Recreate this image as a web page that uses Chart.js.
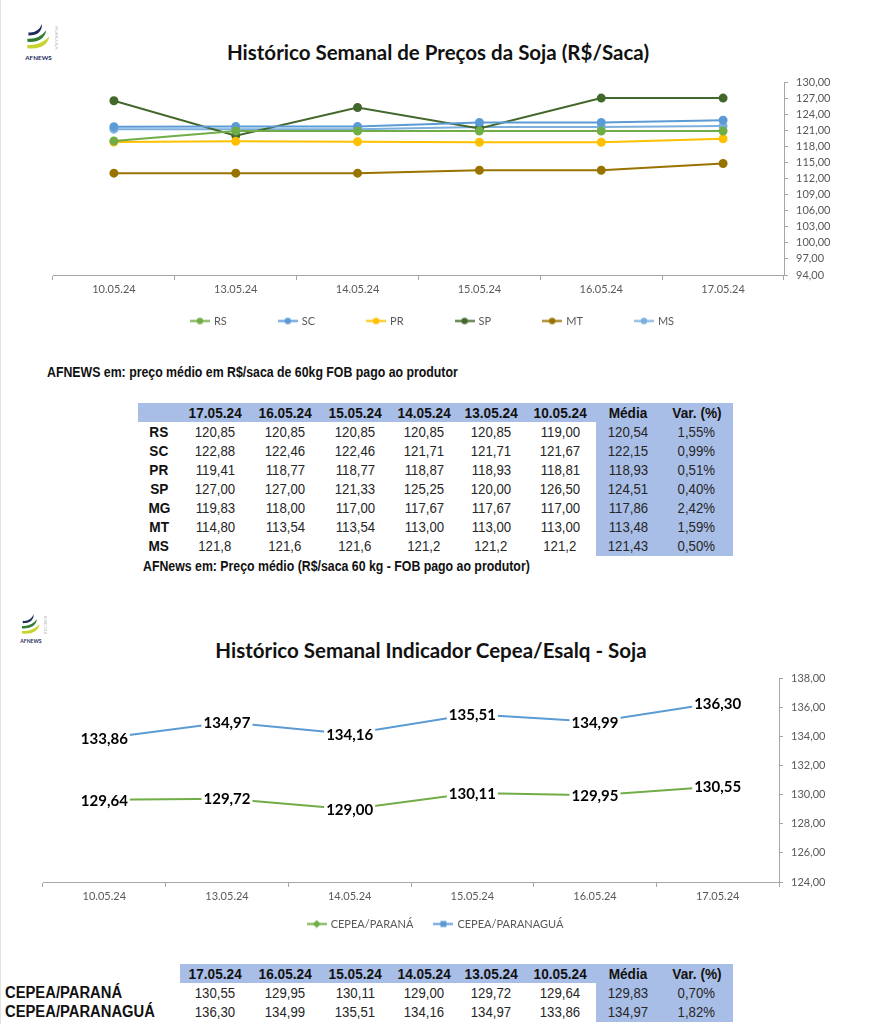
<!DOCTYPE html>
<html>
<head>
<meta charset="utf-8">
<script src="https://cdn.jsdelivr.net/npm/chart.js@4.4.1/dist/chart.umd.min.js"></script>
<style>
  html, body { margin: 0; padding: 0; background: #fff; }
  body { width: 872px; height: 1024px; position: relative; overflow: hidden; font-family: Lato, sans-serif; }
  .abs { position: absolute; }
  .edge { left: 0; top: 0; width: 1px; height: 1024px; background: #e2e2e2; }
  .title { font-weight: bold; font-size: 20.5px; color: #111; white-space: nowrap; transform: translateX(-50%); }
  .narrow { font-family: "Liberation Sans", Arial, sans-serif; white-space: nowrap; }
  .sq { display: inline-block; transform: scaleX(0.88); }
  .note { transform: scaleX(0.88); transform-origin: left center; }
  .cell { position: absolute; text-align: center; color: #262626; font-size: 15px; }
  .shade { position: absolute; background: #a9bee6; }
</style>
</head>
<body>
<div class="abs edge"></div>

<!-- logos -->
<svg class="abs" style="left:24px;top:24px" width="34" height="42" viewBox="0 0 32 40">
  <path d="M4 8 Q13 9 17 0 Q17 11 4 11Z" fill="#1d2b5c"/>
  <path d="M3 14 Q14 15 21 6 Q19 18 3 17Z" fill="#2e7d32"/>
  <path d="M3 20 Q15 21 24 12 Q21 25 3 23Z" fill="#c6d42c"/>
  <text x="1" y="34" font-family="Lato" font-weight="bold" font-size="6" fill="#1d2b5c">AFNEWS</text>
  <text x="29" y="2" font-family="Lato" font-size="4.5" fill="#bbb" transform="rotate(90 29 2)">AGRÍCOLA</text>
</svg>
<svg class="abs" style="left:19px;top:614px" width="28" height="34" viewBox="0 0 32 40">
  <path d="M4 8 Q13 9 17 0 Q17 11 4 11Z" fill="#1d2b5c"/>
  <path d="M3 14 Q14 15 21 6 Q19 18 3 17Z" fill="#2e7d32"/>
  <path d="M3 20 Q15 21 24 12 Q21 25 3 23Z" fill="#c6d42c"/>
  <text x="1" y="34" font-family="Lato" font-weight="bold" font-size="6" fill="#1d2b5c">AFNEWS</text>
  <text x="29" y="2" font-family="Lato" font-size="4.5" fill="#bbb" transform="rotate(90 29 2)">AGRÍCOLA</text>
</svg>

<div class="abs title" style="left:438px;top:40px">Histórico Semanal de Preços da Soja (R$/Saca)</div>
<canvas id="c1" class="abs" style="left:0;top:60px" width="872" height="280"></canvas>

<div class="abs narrow note" style="left:47px;top:364px;font-size:14px;font-weight:bold;color:#111">AFNEWS em: preço médio em R$/saca de 60kg FOB pago ao produtor</div>
<div id="t1"></div>
<div class="abs narrow note" style="left:143px;top:558px;font-size:14px;font-weight:bold;color:#111">AFNews em: Preço médio (R$/saca 60 kg - FOB pago ao produtor)</div>

<div class="abs title" style="left:431px;top:638px">Histórico Semanal Indicador Cepea/Esalq - Soja</div>
<canvas id="c2" class="abs" style="left:0;top:660px" width="872" height="284"></canvas>
<div id="t2"></div>

<script>
// dates, oldest first (chart order); the tables show them newest first
const dates = ["10.05.24", "13.05.24", "14.05.24", "15.05.24", "16.05.24", "17.05.24"];

// soja, R$/saca
const rs = [119.00, 120.85, 120.85, 120.85, 120.85, 120.85];
const sc = [121.67, 121.71, 121.71, 122.46, 122.46, 122.88];
const pr = [118.81, 118.93, 118.87, 118.77, 118.77, 119.41];
const sp = [126.50, 120.00, 125.25, 121.33, 127.00, 127.00];
const mg = [117.00, 117.67, 117.67, 117.00, 118.00, 119.83];
const mt = [113.00, 113.00, 113.00, 113.54, 113.54, 114.80];
const ms = [121.2, 121.2, 121.2, 121.6, 121.6, 121.8];

const mediaSoja = [120.54, 122.15, 118.93, 124.51, 117.86, 113.48, 121.43];
const varSoja = [1.55, 0.99, 0.51, 0.40, 2.42, 1.59, 0.50];

// axis ticks chart 1
const yMin1 = 94, yMax1 = 130, yStep1 = 3;

// cepea/esalq
const cepeaParana = [129.64, 129.72, 129.00, 130.11, 129.95, 130.55];
const cepeaParanagua = [133.86, 134.97, 134.16, 135.51, 134.99, 136.30];
const mediaCepea = [129.83, 134.97];
const varCepea = [0.70, 1.82];

const yMin2 = 124, yMax2 = 138, yStep2 = 2;

const br = (v, d = 2) => v.toFixed(d).replace(".", ",");

const AXIS = "#a6a6a6";
const TICK = "#595959";
const tickFont = { family: "Lato", size: 11 };

// little line+marker images for the legends
function marker(color, shape) {
  const c = document.createElement("canvas");
  c.width = 20; c.height = 9;
  const x = c.getContext("2d");
  x.strokeStyle = color; x.fillStyle = color; x.lineWidth = 2;
  x.beginPath(); x.moveTo(0, 4.5); x.lineTo(20, 4.5); x.stroke();
  x.beginPath();
  if (shape === "square") x.rect(7, 1.5, 6, 6);
  else if (shape === "diamond") { x.moveTo(10, 0.5); x.lineTo(14, 4.5); x.lineTo(10, 8.5); x.lineTo(6, 4.5); x.closePath(); }
  else x.arc(10, 4.5, 3.2, 0, Math.PI * 2);
  x.fill();
  return c;
}

// legend drawn under the x axis, centred on cx, with a fixed gap between items
function bottomLegend(shapes, offsetY, gap, cx) {
  return {
    id: "bottomLegend",
    afterDraw(chart) {
      const ctx = chart.ctx;
      ctx.save();
      ctx.font = "11px Lato";
      ctx.textBaseline = "middle";
      const items = chart.data.datasets.map((ds, i) => ({
        ds, img: marker(ds.borderColor, shapes[i]), w: 24 + ctx.measureText(ds.label).width
      }));
      const total = items.reduce((a, it) => a + it.w, 0) + gap * (items.length - 1);
      let x = cx - total / 2;
      const y = chart.chartArea.bottom + offsetY;
      items.forEach((it) => {
        ctx.drawImage(it.img, x, y - 4.5);
        ctx.fillStyle = TICK;
        ctx.fillText(it.ds.label, x + 24, y + 0.5);
        x += it.w + gap;
      });
      ctx.restore();
    }
  };
}

function scalesFor(min, max, step, leftW, rightW, xH) {
  return {
    x: {
      offset: true,
      grid: { offset: true, drawOnChartArea: false, tickLength: 5, color: AXIS },
      border: { color: AXIS },
      ticks: { color: TICK, font: tickFont, padding: 3, maxRotation: 0 },
      afterFit: (s) => { s.height = xH; }
    },
    y: {
      position: "right",
      min: min, max: max,
      grid: { drawOnChartArea: false, tickLength: 4, color: AXIS },
      border: { color: AXIS },
      ticks: { stepSize: step, autoSkip: false, color: TICK, font: tickFont, padding: 8, callback: (v) => br(v) },
      afterFit: (s) => { s.width = rightW; }
    },
    yl: {
      position: "left",
      grid: { display: false },
      border: { display: false },
      ticks: { display: false },
      afterFit: (s) => { s.width = leftW; }
    }
  };
}

// chart 1
const series1 = [
  { name: "RS", data: rs, color: "#70ad47" },
  { name: "SC", data: sc, color: "#5b9bd5" },
  { name: "PR", data: pr, color: "#ffc000" },
  { name: "SP", data: sp, color: "#43682b" },
  { name: "MT", data: mt, color: "#997300" },
  { name: "MS", data: ms, color: "#7cafdd" }
];

new Chart(document.getElementById("c1"), {
  type: "line",
  data: {
    labels: dates,
    datasets: series1.map((s) => ({
      label: s.name,
      data: s.data,
      borderColor: s.color,
      backgroundColor: s.color,
      borderWidth: 2,
      pointRadius: 3.5,
      pointHoverRadius: 3.5,
      tension: 0
    }))
  },
  options: {
    responsive: false,
    animation: false,
    layout: { padding: { top: 22, bottom: 35, left: 0, right: 0 } },
    plugins: { tooltip: { enabled: false }, legend: { display: false } },
    scales: scalesFor(yMin1, yMax1, yStep1, 53, 88, 30)
  },
  plugins: [bottomLegend(["circle", "circle", "circle", "circle", "circle", "circle"], 46, 51, 432)]
});

// chart 2 with value labels on white boxes
const valueLabels = {
  id: "valueLabels",
  afterDatasetsDraw(chart) {
    const ctx = chart.ctx;
    ctx.save();
    ctx.font = "bold 15px Lato";
    ctx.textAlign = "center";
    ctx.textBaseline = "middle";
    chart.data.datasets.forEach((ds, i) => {
      chart.getDatasetMeta(i).data.forEach((pt, j) => {
        const t = br(ds.data[j]);
        const w = ctx.measureText(t).width + 4;
        ctx.fillStyle = "#fff";
        ctx.fillRect(pt.x - w / 2, pt.y - 10, w, 20);
        ctx.fillStyle = "#000";
        ctx.fillText(t, pt.x, pt.y + 1);
      });
    });
    ctx.restore();
  }
};

new Chart(document.getElementById("c2"), {
  type: "line",
  data: {
    labels: dates,
    datasets: [
      { label: "CEPEA/PARANÁ", data: cepeaParana, borderColor: "#70ad47", backgroundColor: "#70ad47", borderWidth: 2, pointRadius: 0, tension: 0 },
      { label: "CEPEA/PARANAGUÁ", data: cepeaParanagua, borderColor: "#5b9bd5", backgroundColor: "#5b9bd5", borderWidth: 2, pointRadius: 0, tension: 0 }
    ]
  },
  options: {
    responsive: false,
    animation: false,
    layout: { padding: { top: 18, bottom: 35, left: 0, right: 0 } },
    plugins: { tooltip: { enabled: false }, legend: { display: false } },
    scales: scalesFor(yMin2, yMax2, yStep2, 43, 93, 27)
  },
  plugins: [valueLabels, bottomLegend(["diamond", "square"], 42, 20, 435)]
});

// tables (absolutely placed cells)
const colLeft = [138, 180, 250, 320, 390, 458, 524, 596, 660];
const colRight = 733;
const colW = colLeft.map((l, i) => (colLeft[i + 1] || colRight) - l);
const headers = [...dates].reverse().concat(["Média", "Var. (%)"]);

function cell(parent, text, left, top, width, height, extra) {
  const d = document.createElement("div");
  d.className = "cell narrow";
  const s = document.createElement("span");
  s.className = "sq";
  s.textContent = text;
  d.appendChild(s);
  Object.assign(d.style, { left: left + "px", top: top + "px", width: width + "px", height: height + "px", lineHeight: height + "px" }, extra || {});
  if (d.style.textAlign === "left") s.style.transformOrigin = "left center";
  parent.appendChild(d);
}
function shade(parent, left, top, width, height) {
  const d = document.createElement("div");
  d.className = "shade";
  Object.assign(d.style, { left: left + "px", top: top + "px", width: width + "px", height: height + "px" });
  parent.appendChild(d);
}

function buildTable(el, top, bandLeft, rows, medias, vars, labelStyle) {
  const rh = 19;
  const n = rows.length;
  shade(el, bandLeft, top, colRight - bandLeft, rh);
  shade(el, colLeft[7], top, colRight - colLeft[7], rh * (n + 1) + 1);
  headers.forEach((h, i) => cell(el, h, colLeft[i + 1], top, colW[i + 1], rh, { fontWeight: "bold", color: "#111", fontSize: "15.5px" }));
  rows.forEach((r, k) => {
    const y = top + rh * (k + 1);
    cell(el, r.name, labelStyle.left, y, labelStyle.width, rh, { fontWeight: "bold", color: "#111", textAlign: labelStyle.align, fontSize: labelStyle.size });
    [...r.data].reverse().forEach((v, i) => cell(el, br(v, r.dec), colLeft[i + 1], y, colW[i + 1], rh));
    cell(el, br(medias[k]), colLeft[7], y, colW[7], rh);
    cell(el, br(vars[k]) + "%", colLeft[8], y, colW[8], rh);
  });
}

buildTable(document.getElementById("t1"), 403, 138, [
  { name: "RS", data: rs, dec: 2 },
  { name: "SC", data: sc, dec: 2 },
  { name: "PR", data: pr, dec: 2 },
  { name: "SP", data: sp, dec: 2 },
  { name: "MG", data: mg, dec: 2 },
  { name: "MT", data: mt, dec: 2 },
  { name: "MS", data: ms, dec: 1 }
], mediaSoja, varSoja, { left: 138, width: 42, align: "center", size: "15.5px" });

buildTable(document.getElementById("t2"), 964, 180, [
  { name: "CEPEA/PARANÁ", data: cepeaParana, dec: 2 },
  { name: "CEPEA/PARANAGUÁ", data: cepeaParanagua, dec: 2 }
], mediaCepea, varCepea, { left: 5, width: 175, align: "left", size: "16.8px" });
</script>
</body>
</html>
